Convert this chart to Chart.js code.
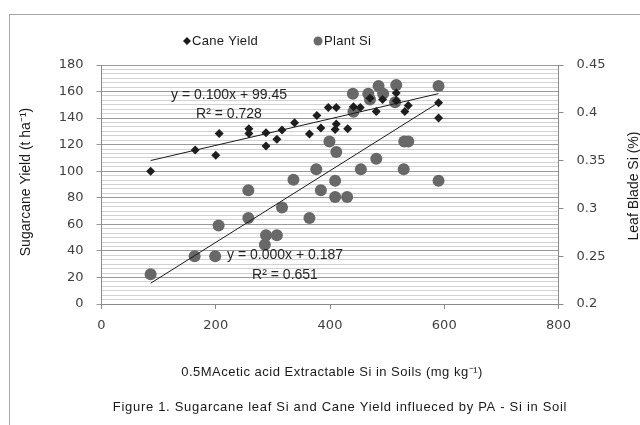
<!DOCTYPE html>
<html><head><meta charset="utf-8">
<script src="https://cdn.jsdelivr.net/npm/chart.js@4/dist/chart.umd.min.js"></script>
<style>
html,body{margin:0;padding:0;background:#fff;}
#wrap{position:relative;width:640px;height:425px;overflow:hidden;background:#fff;}
#frame{position:absolute;left:9px;top:14px;width:700px;height:500px;border:1px solid #a8a8a8;}
canvas{position:absolute;left:0;top:0;}
</style></head><body>
<div id="wrap"><div id="frame"></div><canvas id="c" width="640" height="425"></canvas></div>
<script>
// Cane Yield (left axis, t/ha) vs soil Si (mg/kg)
const caneSoilSi = [86,164,200,206,258,258,288,288,307,316,338,364,377,384,397,411,411,409,431,441,453,470,481,492,516,516,531,537,590,590];
const caneYield  = [100,116,112,128.5,132,128.5,129,119,124,131,136.5,128,142,132.5,148,148,135.5,131.5,132,148.5,148,155,145,154,159,153,145,149.5,151.5,140];
// Plant Si (right axis, %) vs soil Si
const plantSoilSi = [86,163,199,205,257,257,286,288,307,316,336,364,376,384,399,409,409,411,430,440,441,454,467,470,481,485,493,514,516,529,530,537,590,590];
const plantSi     = [0.231,0.250,0.250,0.282,0.319,0.290,0.262,0.272,0.272,0.301,0.330,0.290,0.341,0.319,0.370,0.329,0.312,0.359,0.312,0.420,0.401,0.341,0.420,0.414,0.352,0.428,0.420,0.411,0.429,0.341,0.370,0.370,0.428,0.329];
// trendline end points
const caneTrendX = [86,590];
const caneTrendY = [108.05,158.45];
const siTrendX = [86,590];
const siTrendY = [0.2217,0.4107];
const xTickValues = [0,200,400,600,800];
const leftTickValues = [0,20,40,60,80,100,120,140,160,180];
const rightTickValues = [0.2,0.25,0.3,0.35,0.4,0.45];

const pts = (xs, ys) => xs.map((x,i)=>({x:x,y:ys[i]}));

const textPlugin = {
  id:'texts',
  afterDraw(chart){
    const ctx = chart.ctx;
    ctx.save();
    ctx.textBaseline = 'middle';
    // legend
    ctx.fillStyle = '#1a1a1a';
    ctx.beginPath();
    ctx.moveTo(187,37); ctx.lineTo(191,41); ctx.lineTo(187,45); ctx.lineTo(183,41); ctx.closePath(); ctx.fill();
    ctx.font = '13px "Liberation Sans"';
    ctx.textAlign = 'left';
    ctx.letterSpacing = '0.3px';
    ctx.fillText('Cane Yield', 192, 41);
    ctx.fillStyle = '#6a6a6a';
    ctx.beginPath(); ctx.arc(318,41,4.5,0,Math.PI*2); ctx.fill();
    ctx.fillStyle = '#1a1a1a';
    ctx.fillText('Plant Si', 324, 41);
    ctx.letterSpacing = '0px';
    // trend labels
    ctx.textAlign = 'center';
    ctx.fillStyle = '#262626';
    ctx.font = '14px "Liberation Sans"';
    ctx.fillText('y = 0.100x + 99.45', 229, 95);
    ctx.fillText('R\u00B2 = 0.728', 229, 114);
    ctx.fillText('y = 0.000x + 0.187', 285, 255);
    ctx.fillText('R\u00B2 = 0.651', 285, 275);
    // axis titles
    ctx.fillStyle = '#1a1a1a';
    ctx.font = '14px "Liberation Sans"';
    ctx.save(); ctx.translate(26,182); ctx.rotate(-Math.PI/2);
    ctx.fillText('Sugarcane Yield (t ha\u207B\u00B9)', 0, 0); ctx.restore();
    ctx.save(); ctx.translate(634,186); ctx.rotate(-Math.PI/2);
    ctx.fillText('Leaf Blade Si (%)', 0, 0); ctx.restore();
    ctx.font = '13px "Liberation Sans"';
    ctx.letterSpacing = '0.5px';
    ctx.fillText('0.5MAcetic acid Extractable Si in Soils (mg kg\u207B\u00B9)', 332, 372);
    ctx.letterSpacing = '0.7px';
    ctx.fillText('Figure 1. Sugarcane leaf Si and Cane Yield influeced by PA - Si in Soil', 340, 407);
    ctx.restore();
  }
};

const tickFont = {family:'"DejaVu Sans"', size:13};
new Chart(document.getElementById('c'), {
  type:'scatter',
  data:{datasets:[
    {label:'Cane Yield trend', type:'line', data:pts(caneTrendX,caneTrendY), yAxisID:'y', borderColor:'#1a1a1a', borderWidth:1, pointRadius:0, fill:false, order:0},
    {label:'Plant Si trend', type:'line', data:pts(siTrendX,siTrendY), yAxisID:'y2', borderColor:'#1a1a1a', borderWidth:1, pointRadius:0, fill:false, order:0},
    {label:'Plant Si', data:pts(plantSoilSi,plantSi), yAxisID:'y2', pointStyle:'circle', pointRadius:6, backgroundColor:'#686868', borderColor:'#686868', borderWidth:0, order:2},
    {label:'Cane Yield', data:pts(caneSoilSi,caneYield), yAxisID:'y', pointStyle:'rectRot', pointRadius:4.5, backgroundColor:'#1e1e1e', borderColor:'#1e1e1e', borderWidth:0, order:1}
  ]},
  options:{
    responsive:false, animation:false, devicePixelRatio:1,
    layout:{padding:{top:65,left:0,right:0,bottom:0}},
    plugins:{legend:{display:false}, tooltip:{enabled:false}},
    scales:{
      x:{type:'linear', min:0, max:800,
        afterBuildTicks:s=>{s.ticks = xTickValues.map(v=>({value:v}));},
        ticks:{font:tickFont, color:'#404040', padding:9},
        grid:{drawOnChartArea:false, tickLength:5, color:'#8a8a8a'},
        border:{color:'#8a8a8a'},
        afterFit:s=>{s.height = 121;}},
      y:{position:'left', min:0, max:180,
        afterBuildTicks:s=>{s.ticks = leftTickValues.map(v=>({value:v}));},
        ticks:{font:tickFont, color:'#404040', padding:13},
        grid:{color:'#9a9a9a', tickLength:5},
        border:{color:'#8a8a8a'},
        afterFit:s=>{s.width = 101.5;}},
      yMinor:{position:'left', min:0, max:54,
        ticks:{display:false, stepSize:1},
        grid:{drawTicks:false, color:c=> (c.tick && c.tick.value % 6 === 0) ? 'rgba(0,0,0,0)' : '#d2d2d2'},
        border:{display:false},
        afterFit:s=>{s.width = 0;}},
      y2:{position:'right', min:0.2, max:0.45,
        afterBuildTicks:s=>{s.ticks = rightTickValues.map(v=>({value:v}));},
        ticks:{font:tickFont, color:'#404040', padding:13, callback:v=>String(+v.toFixed(2))},
        grid:{drawOnChartArea:false, tickLength:5, color:'#8a8a8a'},
        border:{color:'#8a8a8a'},
        afterFit:s=>{s.width = 81.5;}}
    }
  },
  plugins:[textPlugin]
});
</script>
</body></html>
